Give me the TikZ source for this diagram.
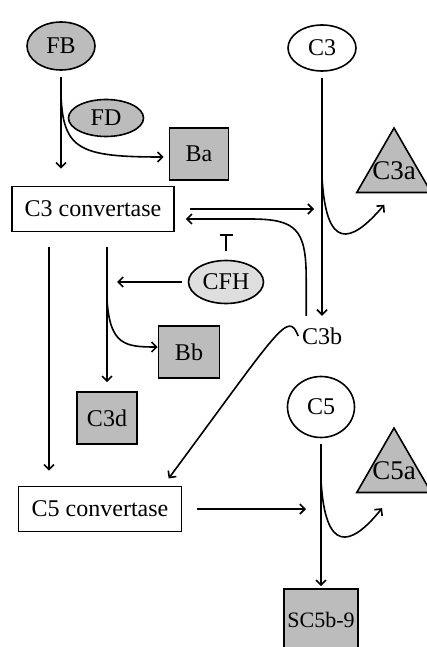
\documentclass[tikz,border=0pt]{standalone}
\usepackage{fontspec}
\setmainfont{Liberation Serif}
\usetikzlibrary{shapes.geometric,arrows.meta}
\definecolor{darkfill}{RGB}{188,188,188}
\definecolor{lightfill}{RGB}{222,222,222}

\begin{document}
\begin{tikzpicture}[
    x=1pt, y=-1pt,
    line width=1.6pt,
    font=\fontsize{24}{28}\selectfont,
    factor/.style={draw, ellipse, inner sep=0pt},
    product/.style={draw, fill=darkfill, inner sep=0pt, minimum width=60pt, minimum height=52pt},
    convertase/.style={draw, fill=white, inner sep=0pt, minimum width=162pt, minimum height=45pt},
    fragment/.style={draw, fill=darkfill, regular polygon, regular polygon sides=3, inner sep=0pt, minimum size=86pt},
    fraglabel/.style={font=\fontsize{27}{30}\selectfont, inner sep=0pt},
    flow/.style={-{Straight Barb[length=5pt,width=10pt]}},
    inhib/.style={-{Bar[width=13pt]}}
]
\useasboundingbox (0,0) rectangle (426,647);

\node[factor, fill=darkfill, minimum width=68pt, minimum height=48pt] (fb) at (61,46) {FB};
\node[factor, fill=darkfill, minimum width=75pt, minimum height=37pt] (fd) at (106,118) {FD};
\node[product, minimum width=59pt] (ba) at (199,154) {Ba};
\node[convertase] (c3conv) at (93,209) {C3 convertase};
\node[factor, fill=white, minimum width=68pt, minimum height=46pt] (c3) at (322,48) {C3};
\node[fragment, label={[fraglabel]center:C3a}] (c3a) at (394,171) {};
\node[inner sep=3pt] (c3b) at (322,336) {C3b};
\node[factor, fill=lightfill, minimum width=75pt, minimum height=43pt] (cfh) at (226,282) {CFH};
\node[product, minimum width=61pt] (bb) at (189,352) {Bb};
\node[product] (c3d) at (107,418) {C3d};
\node[convertase, minimum width=163pt] (c5conv) at (100,509) {C5 convertase};
\node[factor, fill=white, minimum width=67pt, minimum height=61pt] (c5) at (321,407) {C5};
\node[fragment, label={[fraglabel]center:C5a}] (c5a) at (394,471) {};
\node[product, minimum width=74pt, minimum height=62pt, font=\fontsize{22}{26}\selectfont] (sc5b9) at (321,620) {SC5b-9};

% FB + FD
\draw[flow, shorten <=6pt, shorten >=17pt] (fb) -- (fb |- c3conv.north);
\coordinate (fbsplit) at (61,95);
\draw[flow, shorten >=5pt] (fbsplit) .. controls (63,150) and (80,157) .. ([yshift=-3pt]ba.west);

% C3 -> C3a + C3b
\draw[flow, shorten <=6pt, shorten >=8pt] (c3) -- (c3b);
\coordinate (c3split) at (322,177);
\draw[flow, shorten >=15pt] (c3split) .. controls (326,250) and (350,245) .. (c3a.side 2);
\draw[flow, shorten <=15pt, shorten >=8pt] (c3conv) -- (c3conv -| c3);

% C3b zpet na konvertazu
\draw[flow, shorten <=8pt, shorten >=11pt] ([xshift=8pt]c3b.north west) -- ++(0,-45)
    .. controls +(0,-50) and (296,219) .. (250,219) -- ([yshift=-10pt]c3conv.east);

% CFH
\draw[inhib, shorten <=9pt, shorten >=2pt] (cfh) -- (cfh |- c3conv.south);
\draw[flow, shorten <=6pt, shorten >=10pt] (cfh) -- (cfh -| c3d);

% rozpad konvertazy
\draw[flow, shorten <=15pt, shorten >=9pt] (c3d |- c3conv.south) -- (c3d);
\coordinate (c3dsplit) at (107,300);
\draw[flow] (c3dsplit) .. controls (110,345) and (125,347) .. ([yshift=5pt]bb.west);

% C5 konvertaza
\draw[flow, shorten <=15pt, shorten >=15pt] ([xshift=-44pt]c3conv.south) -- ([xshift=-51pt]c5conv.north);
\draw[flow, shorten >=9pt] (c3b.west) .. controls (288,310) and (280,328) .. ([xshift=-19pt]c5conv.north east);

% C5 -> C5a + SC5b-9
\draw[flow, shorten <=15pt, shorten >=15pt] (c5conv) -- (c5conv -| c5);
\draw[flow, shorten <=6pt, shorten >=2pt] (c5) -- (sc5b9);
\coordinate (c5split) at (321,480);
\draw[flow, shorten >=19pt] (c5split) .. controls (325,553) and (350,548) .. (c5a.side 2);

\end{tikzpicture}
\end{document}
